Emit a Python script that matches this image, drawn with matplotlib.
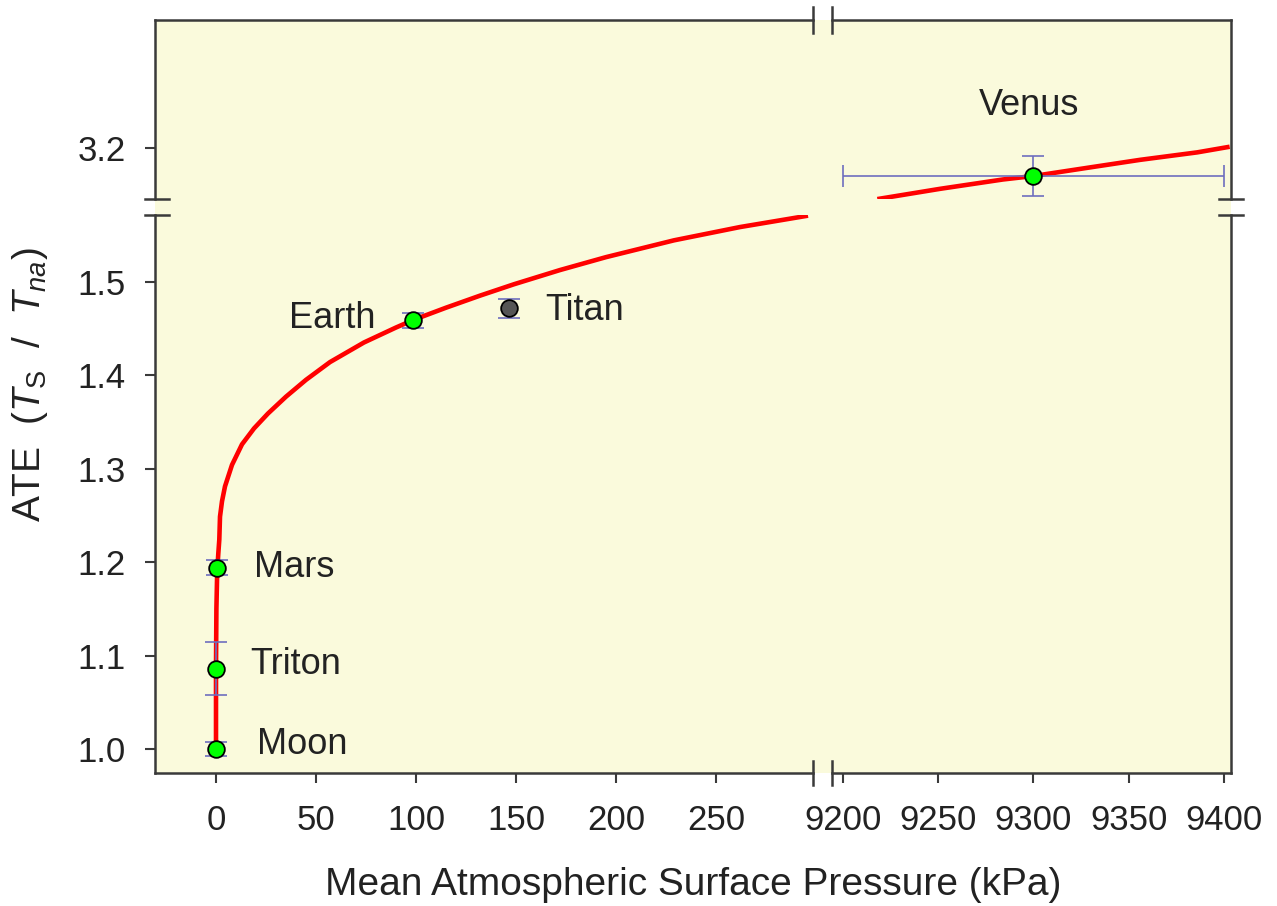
import matplotlib
matplotlib.use("Agg")
import matplotlib.pyplot as plt
from matplotlib.lines import Line2D
from matplotlib.patches import Rectangle

# --- data ---
planets = ["Moon", "Triton", "Mars", "Earth", "Titan"]
pressure = [0.0, 0.0014, 0.69, 98.55, 146.7]
ate = [1.000, 1.086, 1.194, 1.459, 1.4715]
ate_err = [0.008, 0.028, 0.008, 0.008, 0.010]
marker_colors = ["#00FF00", "#00FF00", "#00FF00", "#00FF00", "#555555"]

venus_p = 9300
venus_p_err = 100
venus_ate = 3.1697
venus_ate_err = 0.021

# regression curve, low-pressure part
curve_p = [0.0, 0.0, 0.2, 0.6, 1.15, 1.65, 2.0, 3.0, 4.5, 8.0, 13.0, 19.0, 26.0, 35.0,
           45.0, 57.0, 74.0, 90.0, 98.55, 115.0, 132.0, 149.0, 172.0, 195.0, 229.0,
           262.0, 296.0]
curve_ate = [1.000, 1.086, 1.150, 1.190, 1.209, 1.224, 1.2486, 1.265, 1.281, 1.304, 1.326,
             1.343, 1.359, 1.377, 1.395, 1.414, 1.435, 1.451, 1.459, 1.4722, 1.4851,
             1.4973, 1.5125, 1.5263, 1.5443, 1.5585, 1.5707]
# regression curve, Venus part
curve_p_hi = [9218, 9251, 9284, 9300, 9330, 9356, 9386, 9403]
curve_ate_hi = [3.145, 3.156, 3.166, 3.1697, 3.179, 3.187, 3.195, 3.201]

xticks_lo = [0, 50, 100, 150, 200, 250]
xticks_hi = [9200, 9250, 9300, 9350, 9400]
yticks_lo = [1.0, 1.1, 1.2, 1.3, 1.4, 1.5]
yticks_hi = [3.2]

plt.rcParams["font.family"] = ["Liberation Sans", "DejaVu Sans"]
plt.rcParams["mathtext.fontset"] = "custom"
plt.rcParams["mathtext.rm"] = "Liberation Sans"
plt.rcParams["mathtext.it"] = "Liberation Sans:italic"

W, H = 1277, 906
fig = plt.figure(figsize=(W / 100, H / 100), dpi=100)

BG = "#FAFADC"
SPINE = "#3a3a3a"
TXT = "#222222"
ERR = "#6E6EBE"
FS_TICK = 25
FS_NAME = 26
FS_LABEL = 28

# pixel layout of the panels
xl0, xl1 = 155, 813
xr0, xr1 = 832, 1231
yt0, yt1 = 20, 199
yb0, yb1 = 215, 773


def rect(x0, x1, y0, y1):
    return [x0 / W, 1 - y1 / H, (x1 - x0) / W, (y1 - y0) / H]


fig.add_artist(Rectangle((xl0 / W, 1 - yb1 / H), (xr1 - xl0) / W, (yb1 - yt0) / H,
                         transform=fig.transFigure, facecolor=BG, edgecolor="none", zorder=0))

ax_bl = fig.add_axes(rect(xl0, xl1, yb0, yb1))
ax_br = fig.add_axes(rect(xr0, xr1, yb0, yb1))
ax_tl = fig.add_axes(rect(xl0, xl1, yt0, yt1))
ax_tr = fig.add_axes(rect(xr0, xr1, yt0, yt1))

lo_x = (-30.5, 298.5)
hi_x = (9194.2, 9403.7)
lo_y = (0.9743, 1.5714)
hi_y = (3.1451, 3.3366)

for ax, xl, yl in [(ax_bl, lo_x, lo_y), (ax_br, hi_x, lo_y), (ax_tl, lo_x, hi_y), (ax_tr, hi_x, hi_y)]:
    ax.set_facecolor("none")
    ax.set_xlim(*xl)
    ax.set_ylim(*yl)
    for s in ax.spines.values():
        s.set_visible(False)
        s.set_color(SPINE)
        s.set_linewidth(1.8)
    ax.set_xticks([])
    ax.set_yticks([])
    ax.tick_params(colors=SPINE, labelcolor=TXT, labelsize=FS_TICK, width=1.5, length=7)

ax_bl.spines["left"].set_visible(True)
ax_bl.spines["bottom"].set_visible(True)
ax_br.spines["bottom"].set_visible(True)
ax_br.spines["right"].set_visible(True)
ax_tl.spines["left"].set_visible(True)
ax_tl.spines["top"].set_visible(True)
ax_tr.spines["top"].set_visible(True)
ax_tr.spines["right"].set_visible(True)

ax_bl.set_xticks(xticks_lo)
ax_bl.set_yticks(yticks_lo)
ax_bl.set_yticklabels([f"{v:.1f}" for v in yticks_lo])
ax_br.set_xticks(xticks_hi)
ax_tl.set_yticks(yticks_hi)
ax_tl.set_yticklabels([f"{v:.1f}" for v in yticks_hi])
for ax in (ax_bl, ax_br):
    ax.tick_params(axis="x", pad=15)
for ax in (ax_bl, ax_tl):
    ax.tick_params(axis="y", pad=14)

# curve
ax_bl.plot(curve_p, curve_ate, color="red", lw=3.3, zorder=2, solid_capstyle="butt")
ax_tr.plot(curve_p_hi, curve_ate_hi, color="red", lw=3.3, zorder=2, solid_capstyle="butt")

# planets
for p, a, e, c in zip(pressure, ate, ate_err, marker_colors):
    ax_bl.errorbar(p, a, yerr=e, fmt="none", ecolor=ERR, elinewidth=1.2, capsize=8,
                   capthick=1.2, zorder=3)
    ax_bl.plot(p, a, "o", ms=12, mfc=c, mec="black", mew=1.3, zorder=4)

ax_tr.errorbar(venus_p, venus_ate, xerr=venus_p_err, yerr=venus_ate_err, fmt="none",
               ecolor=ERR, elinewidth=1.2, capsize=8, capthick=1.2, zorder=3)
ax_tr.plot(venus_p, venus_ate, "o", ms=12, mfc="#00FF00", mec="black", mew=1.3, zorder=4)

# planet labels
ax_bl.text(79.5, 1.461, "Earth", ha="right", va="center", fontsize=FS_NAME, color=TXT)
ax_bl.text(164.5, 1.4697, "Titan", ha="left", va="center", fontsize=FS_NAME, color=TXT)
ax_bl.text(19, 1.1937, "Mars", ha="left", va="center", fontsize=FS_NAME, color=TXT)
ax_bl.text(17, 1.0899, "Triton", ha="left", va="center", fontsize=FS_NAME, color=TXT)
ax_bl.text(20.5, 1.0043, "Moon", ha="left", va="center", fontsize=FS_NAME, color=TXT)
ax_tr.text(9297.6, 3.2446, "Venus", ha="center", va="center", fontsize=FS_NAME, color=TXT)

# break marks
def brk(x0, y0, x1, y1):
    fig.add_artist(Line2D([x0 / W, x1 / W], [1 - y0 / H, 1 - y1 / H],
                          transform=fig.transFigure, color=SPINE, lw=1.8, zorder=5))

for x in (xl1, xr0):
    brk(x, yb1 - 12, x, yb1 + 12)
    brk(x, yt0 - 13, x, yt0 + 13)
for y in (yt1, yb0):
    brk(xl0 - 10, y, xl0 + 14, y)
    brk(xr1 - 12, y, xr1 + 12, y)

fig.text((xl0 + xr1) / 2 / W, 1 - 885 / H, "Mean Atmospheric Surface Pressure (kPa)",
         ha="center", va="center", fontsize=FS_LABEL, color=TXT)
fig.text(30 / W, 1 - 385 / H,
         r"ATE  ($\mathit{T}_{\mathrm{S}}$  /  $\mathit{T}_{\mathit{na}}$)",
         ha="center", va="center", rotation=90, fontsize=FS_LABEL, color=TXT)

fig.savefig("out.png", dpi=100)
